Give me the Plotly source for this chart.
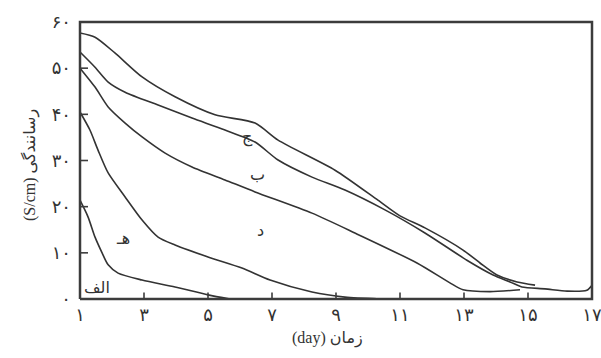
import plotly.graph_objects as go

# ---- data ----
days_jim = [1.0, 1.47, 2.09, 2.94, 3.97, 5.22, 6.47, 7.19, 8.97, 10.31, 11.0, 11.78, 12.97, 13.5, 14.03, 14.66, 15.22]
cond_jim = [57.6, 56.7, 53.3, 48.1, 43.8, 39.9, 38.1, 34.4, 27.9, 21.4, 18.0, 15.4, 10.6, 7.8, 5.2, 3.7, 3.0]

days_be = [1.0, 1.47, 1.88, 2.41, 3.44, 4.5, 5.53, 6.47, 7.19, 8.25, 9.28, 10.53, 11.78, 13.09, 13.91, 14.44, 14.81, 15.53, 16.22, 16.84, 17.0]
cond_be = [53.5, 50.2, 47.0, 44.8, 42.0, 39.2, 36.6, 34.0, 30.1, 26.4, 23.6, 19.3, 14.3, 8.4, 5.2, 3.7, 2.6, 2.2, 1.7, 1.9, 3.0]

days_dal = [1.0, 1.47, 1.88, 2.41, 2.94, 3.66, 4.5, 5.53, 6.47, 8.25, 9.59, 11.53, 12.56, 12.97, 13.81, 14.75]
cond_dal = [50.0, 45.9, 41.6, 38.1, 35.1, 31.6, 28.6, 25.8, 23.2, 18.6, 14.3, 7.8, 3.5, 2.0, 1.6, 2.0]

days_he = [1.0, 1.31, 1.56, 1.88, 2.41, 2.94, 3.44, 3.97, 5.0, 6.06, 6.94, 8.25, 9.28, 10.38]
cond_he = [40.5, 36.6, 32.3, 27.3, 22.1, 17.1, 13.4, 11.7, 9.1, 6.7, 4.1, 1.5, 0.4, 0.0]

days_alef = [1.0, 1.25, 1.47, 1.69, 1.88, 2.19, 2.94, 3.97, 5.0, 5.69]
cond_alef = [21.4, 17.8, 13.4, 10.0, 7.4, 5.6, 4.1, 2.6, 0.9, 0.0]

series_names = ["ج", "ب", "د", "هـ", "الف"]
label_x = [6.22, 6.56, 6.63, 2.34, 1.53]
label_y = [34.9, 26.9, 14.9, 13.2, 2.6]

x_tickvals = [1, 3, 5, 7, 9, 11, 13, 15, 17]
x_ticktext = ["۱", "۳", "۵", "۷", "۹", "۱۱", "۱۳", "۱۵", "۱۷"]
y_tickvals = [0, 10, 20, 30, 40, 50, 60]
y_ticktext = ["۰", "۱۰", "۲۰", "۳۰", "۴۰", "۵۰", "۶۰"]

x_title = "(day) زمان"
y_title = "(S/cm) رسانندگی"

# frame limits (data) and a small padding of the axes around them
X_FRAME = [1, 17]
Y_FRAME = [0, 60]
X_RANGE = [0.75, 17.25]
Y_RANGE = [-1.516, 61.516]

FONT = "Liberation Serif, DejaVu Sans, serif"
LINE = "#333333"
FRAME = "#3c3c3c"

fig = go.Figure()
all_series = [(days_jim, cond_jim), (days_be, cond_be), (days_dal, cond_dal),
              (days_he, cond_he), (days_alef, cond_alef)]
for (xs, ys), name in zip(all_series, series_names):
    fig.add_trace(go.Scatter(x=xs, y=ys, mode="lines", name=name,
                             line=dict(color=LINE, width=1.6, shape="spline", smoothing=0.7),
                             showlegend=False, hoverinfo="skip"))

x0, x1 = X_FRAME
y0, y1 = Y_FRAME

# frame box drawn as one closed polygon outline
fig.add_trace(go.Scatter(x=[x0, x0, x1, x1, x0], y=[y0, y1, y1, y0, y0],
                         mode="lines", line=dict(color=FRAME, width=2.5),
                         showlegend=False, hoverinfo="skip"))

# inner tick marks at the tick values (one trace per axis, gaps between marks)
tick_x, tick_y = [], []
for v in x_tickvals[1:-1]:
    tick_x += [v, v, None]
    tick_y += [y0, y0 + 1.4, None]
fig.add_trace(go.Scatter(x=tick_x, y=tick_y, mode="lines",
                         line=dict(color=FRAME, width=1.6),
                         showlegend=False, hoverinfo="skip"))
tick_x, tick_y = [], []
for v in y_tickvals[1:-1]:
    tick_x += [x0, x0 + 0.25, None]
    tick_y += [v, v, None]
fig.add_trace(go.Scatter(x=tick_x, y=tick_y, mode="lines",
                         line=dict(color=FRAME, width=1.6),
                         showlegend=False, hoverinfo="skip"))

for name, lx, ly in zip(series_names, label_x, label_y):
    fig.add_annotation(x=lx, y=ly, text=name, showarrow=False,
                       font=dict(family=FONT, size=16, color="#333"))

fig.add_annotation(xref="paper", yref="paper", x=0.483, y=-0.11, text=x_title,
                   xanchor="center", yanchor="middle",
                   showarrow=False, font=dict(family=FONT, size=16, color="#333"))
fig.add_annotation(xref="paper", yref="paper", x=-0.0795, y=0.4845, text=y_title,
                   xanchor="center", yanchor="middle",
                   textangle=-90, showarrow=False, font=dict(family=FONT, size=16, color="#333"))

fig.update_xaxes(range=X_RANGE, tickvals=x_tickvals, ticktext=x_ticktext,
                 ticks="", showline=False, showgrid=False, zeroline=False,
                 ticklabeloverflow="allow", ticklabelstandoff=-4,
                 tickfont=dict(family=FONT, size=18, color="#333"))
fig.update_yaxes(range=Y_RANGE, tickvals=y_tickvals, ticktext=y_ticktext,
                 ticks="", showline=False, showgrid=False, zeroline=False,
                 ticklabeloverflow="allow", ticklabelstandoff=0,
                 tickfont=dict(family=FONT, size=18, color="#333"))

fig.update_layout(width=601, height=358,
                  margin=dict(l=72, r=1, t=15, b=52, autoexpand=False),
                  plot_bgcolor="white", paper_bgcolor="white")

fig.write_html("out.html", config={"displayModeBar": False, "staticPlot": True},
               post_script="document.body.style.margin='0';document.body.style.overflow='hidden';")
